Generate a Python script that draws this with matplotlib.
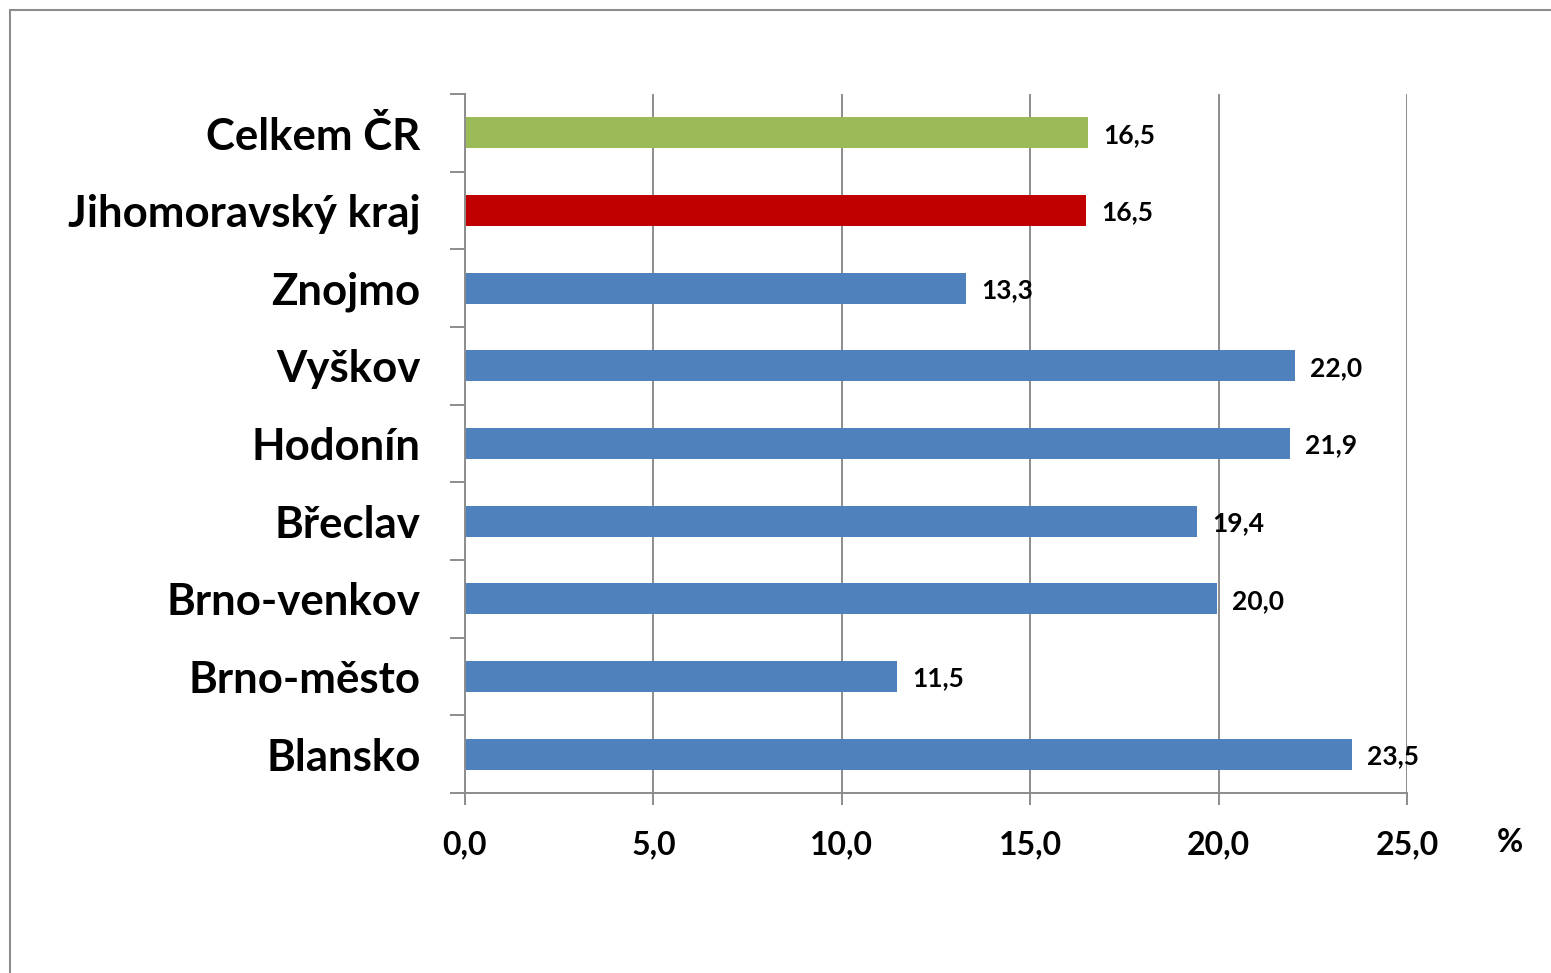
import matplotlib
matplotlib.use("Agg")
import matplotlib.pyplot as plt
from matplotlib.patches import Rectangle

categories = ["Blansko", "Brno-město", "Brno-venkov", "Břeclav", "Hodonín",
              "Vyškov", "Znojmo", "Jihomoravský kraj", "Celkem ČR"]
values = [23.54, 11.47, 19.96, 19.43, 21.9, 22.03, 13.3, 16.47, 16.53]
colors = ["#4F81BD"] * 7 + ["#C00000", "#9BBB59"]
xticks = [0, 5, 10, 15, 20, 25]
xtick_labels = ["0,0", "5,0", "10,0", "15,0", "20,0", "25,0"]
unit_label = "%"

plt.rcParams['font.family'] = ['Lato', 'DejaVu Sans']
plt.rcParams['font.weight'] = 'bold'

W, H = 1551, 973
fig = plt.figure(figsize=(W / 100, H / 100), dpi=100)
fig.patch.set_facecolor("white")

# outer frame
fig.patches.append(Rectangle((10 / W, -0.1), 1.2, 1 - 10 / H + 0.1, transform=fig.transFigure,
                             fill=False, edgecolor="#8c8c8c", linewidth=1.5))

ax = fig.add_axes([465 / W, 1 - 793 / H, (1407 - 465) / W, (793 - 94) / H])
ypos = list(range(len(categories)))
ax.barh(ypos, values, height=0.4, color=colors, zorder=3)
ax.set_xlim(0, 25)
ax.set_ylim(-0.5, len(categories) - 0.5)

ax.set_xticks(xticks)
ax.set_xticklabels(xtick_labels, fontsize=23, fontweight='bold')
ax.xaxis.grid(True, color="#8c8c8c", linewidth=1.4, zorder=0)
ax.tick_params(axis='x', length=8.6, width=1.4, color="#8c8c8c", pad=18)

ax.set_yticks([y - 0.5 for y in range(len(categories) + 1)])
ax.set_yticklabels([])
ax.set_yticks(ypos, minor=True)
ax.set_yticklabels(categories, minor=True, fontsize=31.5, fontweight='bold')
ax.tick_params(axis='y', which='major', length=10.8, width=1.4, color="#8c8c8c")
ax.tick_params(axis='y', which='minor', length=0, pad=32)

for s in ['top', 'right']:
    ax.spines[s].set_visible(False)
for s in ['left', 'bottom']:
    ax.spines[s].set_color("#8c8c8c")
    ax.spines[s].set_linewidth(1.4)
    ax.spines[s].set_zorder(4)

for y, v in zip(ypos, values):
    ax.annotate(f"{v:.1f}".replace(".", ","), xy=(v, y), xytext=(11, -1.5),
                textcoords="offset points", va="center", ha="left",
                fontsize=19, fontweight='bold', color="black", zorder=5)

fig.text(1510 / W, 1 - 842 / H, unit_label, ha="center", va="center",
         fontsize=23, fontweight='bold')

fig.savefig("out.png", dpi=100, facecolor="white")
